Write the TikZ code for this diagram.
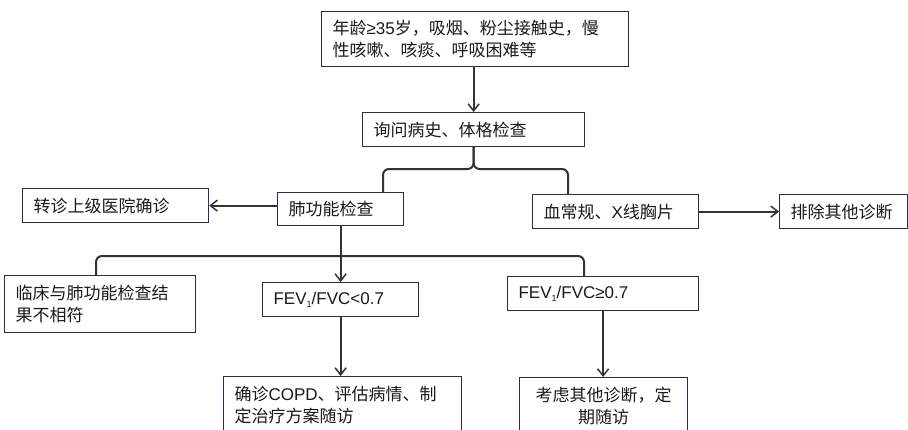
\documentclass[tikz,border=0pt]{standalone}
\usepackage{fontspec}
\setmainfont{Liberation Sans}
\newfontfamily\cn{Noto Sans CJK SC}
\newfontfamily\lat{Liberation Sans}
\usetikzlibrary{arrows.meta}
\definecolor{linec}{HTML}{333333}
\definecolor{boxc}{HTML}{2B2B55}
\definecolor{txtc}{HTML}{1A1A1A}
\newcommand\mysub[1]{\raisebox{-3.5pt}{\fontsize{9}{9}\selectfont #1}}
\tikzset{
  box/.style={draw=boxc, line width=1.2pt, fill=white, text=txtc, inner xsep=11pt,
    inner ysep=0pt, align=left, anchor=north west, font=\fontsize{17}{22}\selectfont\cn},
  conn/.style={draw=linec, line width=2pt},
  arr/.style={conn, -{Straight Barb[length=7pt,width=11pt,line width=1.5pt]}},
}
\begin{document}
\begin{tikzpicture}[x=1pt,y=-1pt]
\useasboundingbox (0,0) rectangle (908,429);
\clip (0,0) rectangle (908,429);
\node[box, minimum width=307pt, minimum height=55pt, text width=285pt] (A) at (321,11)
  {年龄{\lat ≥35}岁，吸烟、粉尘接触史，慢\\性咳嗽、咳痰、呼吸困难等};
\node[box, minimum width=222pt, minimum height=34pt, text width=200pt] (B) at (362,112) {询问病史、体格检查};
\node[box, minimum width=126pt, minimum height=33pt, text width=104pt] (C) at (277,192) {肺功能检查};
\node[box, minimum width=186pt, minimum height=34pt, text width=164pt] (D) at (22,188) {转诊上级医院确诊};
\node[box, minimum width=166pt, minimum height=34pt, text width=144pt] (E) at (532,194) {血常规、{\lat X}线胸片};
\node[box, minimum width=128pt, minimum height=34pt, text width=106pt] (F) at (779,194) {排除其他诊断};
\node[box, minimum width=191pt, minimum height=57pt, text width=169pt] (G) at (4,275) {临床与肺功能检查结\\果不相符};
\node[box, minimum width=156pt, minimum height=34pt, text width=134pt] (H) at (262,282) {\lat FEV\mysub{1}/FVC<0.7};
\node[box, minimum width=191pt, minimum height=34pt, text width=169pt] (I) at (507,276) {\lat FEV\mysub{1}/FVC≥0.7};
\node[box, minimum width=238pt, minimum height=57pt, text width=216pt] (J) at (223,376) {确诊{\lat COPD}、评估病情、制\\定治疗方案随访};
\node[box, minimum width=168pt, minimum height=57pt, text width=146pt, align=center] (K) at (519,377) {考虑其他诊断，定\\期随访};
% connectors
\coordinate (cl) at (383,169);
\coordinate (cr) at (568,169);
\coordinate (gl) at (96,256);
\coordinate (ir) at (584,256);
\draw[arr] (B.north |- A.south) -- (B.north);
\draw[conn, rounded corners=6pt] (B.south) |- (cl) -- (cl |- C.north);
\draw[conn, rounded corners=6pt] (B.south) |- (cr) -- (cr |- E.north);
\draw[arr] (D.east -| C.west) -- (D.east);
\draw[arr] (E.east) -- (E.east -| F.west);
\draw[conn, rounded corners=6pt] (gl |- G.north) -- (gl) -- (ir) -- (ir |- I.north);
\draw[arr] (C.south) -- (H.north);
\draw[arr] (H.south) -- (H.south |- J.north);
\draw[arr] (I.south) -- (I.south |- K.north);
\end{tikzpicture}
\end{document}
